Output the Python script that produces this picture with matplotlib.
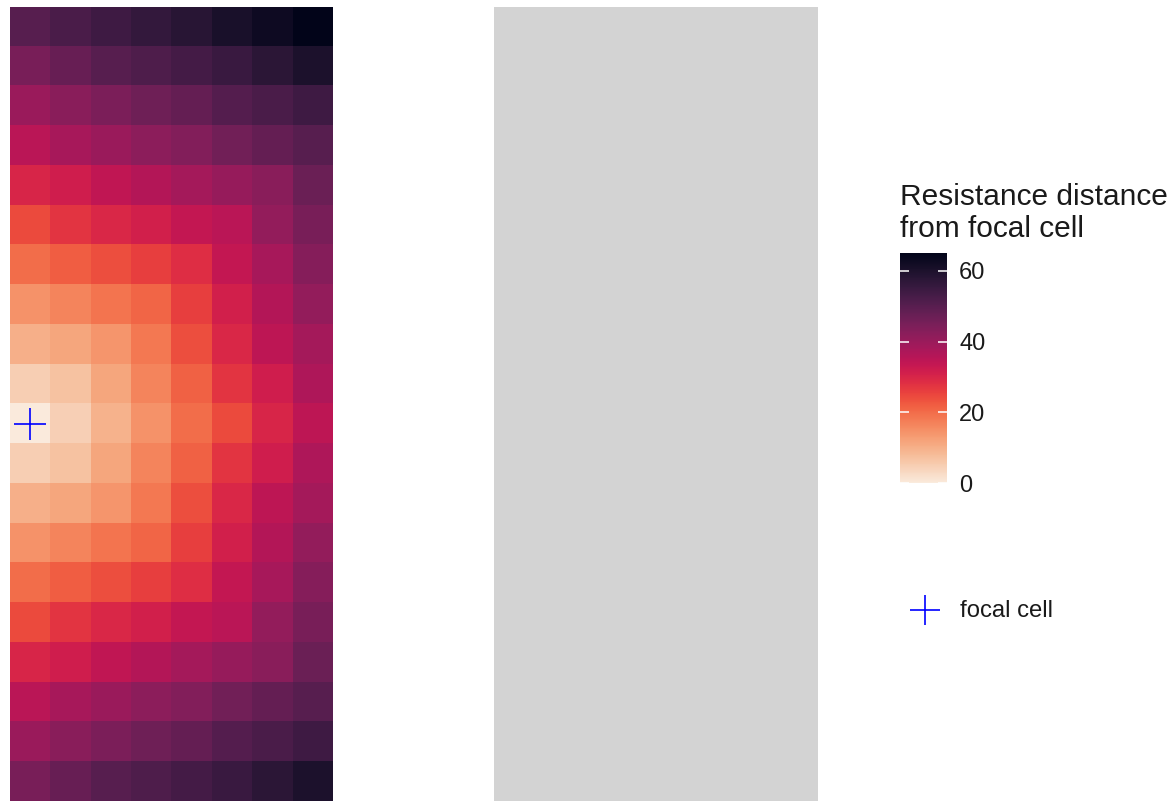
import numpy as np
import matplotlib.pyplot as plt
import seaborn as sns
from matplotlib.lines import Line2D

plt.rcParams['font.family'] = ['Liberation Sans', 'DejaVu Sans']

# resistance distance per cell, rows from top to bottom, 8 columns
dist = np.array([
    [50.0, 52.0, 54.0, 56.0, 58.0, 60.5, 62.5, 64.9],
    [45.0, 47.5, 50.0, 51.5, 53.0, 55.0, 57.5, 60.0],
    [40.0, 42.5, 44.5, 46.5, 48.0, 50.5, 52.0, 54.0],
    [35.0, 38.0, 40.0, 42.0, 43.5, 46.0, 48.0, 50.0],
    [30.0, 31.5, 34.0, 36.0, 38.5, 40.5, 42.5, 47.0],
    [24.5, 27.5, 29.5, 31.0, 33.5, 35.0, 41.0, 45.0],
    [20.0, 22.0, 24.0, 26.0, 28.5, 33.5, 38.0, 43.0],
    [14.5, 16.5, 19.0, 21.0, 26.0, 31.0, 36.0, 41.0],
    [10.0, 11.5, 14.0, 18.5, 24.0, 29.5, 34.5, 38.5],
    [5.0, 7.0, 11.5, 16.5, 21.5, 27.5, 31.5, 37.0],
    [0.0, 4.6, 9.5, 14.5, 20.0, 24.5, 30.0, 34.5],
    [5.0, 7.0, 11.5, 16.5, 21.5, 27.5, 31.5, 37.0],
    [10.0, 11.5, 14.0, 18.5, 24.0, 29.5, 34.5, 38.5],
    [14.5, 16.5, 19.0, 21.0, 26.0, 31.0, 36.0, 41.0],
    [20.0, 22.0, 24.0, 26.0, 28.5, 33.5, 38.0, 43.0],
    [24.5, 27.5, 29.5, 31.0, 33.5, 35.0, 41.0, 45.0],
    [30.0, 31.5, 34.0, 36.0, 38.5, 40.5, 42.5, 47.0],
    [35.0, 38.0, 40.0, 42.0, 43.5, 46.0, 48.0, 50.0],
    [40.0, 42.5, 44.5, 46.5, 48.0, 50.5, 52.0, 54.0],
    [45.0, 47.5, 50.0, 51.5, 53.0, 55.0, 57.5, 60.0],
])
focal_row = 10
focal_col = 0
cbar_ticks = [0, 20, 40, 60]
legend_title = ['Resistance distance', 'from focal cell']
focal_label = 'focal cell'

n_rows, n_cols = dist.shape
W, H = 1175, 802


def box(x0, y0, x1, y1):
    # pixel box (top-left origin) -> figure fraction rect
    return [x0 / W, 1 - y1 / H, (x1 - x0) / W, (y1 - y0) / H]


cmap = sns.color_palette('rocket_r', as_cmap=True)
cmap_na = cmap.copy()
cmap_na.set_bad('#D3D3D3')

fig = plt.figure(figsize=(W / 100, H / 100), dpi=100)

# left panel: distance raster
ax1 = fig.add_axes(box(10, 6.7, 332.3, 801))
im = ax1.imshow(dist, cmap=cmap, vmin=0, vmax=dist.max(),
                extent=(0, n_cols, n_rows, 0), aspect='auto',
                interpolation='nearest')
ax1.plot(focal_col + 0.5, focal_row + 0.5, ls='none', marker='+',
         ms=23.5, mew=1.2, color='blue')
ax1.set_xlim(0, n_cols)
ax1.set_ylim(n_rows, 0)
ax1.set_axis_off()

# right panel: all cells NA
ax2 = fig.add_axes(box(494.3, 6.7, 818.3, 801))
ax2.imshow(np.full_like(dist, np.nan), cmap=cmap_na, vmin=0, vmax=dist.max(),
           extent=(0, n_cols, n_rows, 0), aspect='auto')
ax2.set_axis_off()

# colour bar legend
cax = fig.add_axes(box(900, 253.3, 946.7, 483.3))
cb = fig.colorbar(im, cax=cax)
cb.outline.set_visible(False)
cb.set_ticks(cbar_ticks)
cax.tick_params(direction='in', length=6.2, width=1.1, color='white',
                left=True, right=True, labelleft=False, labelright=True,
                labelsize=17, labelcolor='#1A1A1A', pad=9)

fig.text(900 / W, 1 - 205 / H, legend_title[0], fontsize=21.5,
         va='baseline', ha='left', color='#1A1A1A')
fig.text(900 / W, 1 - 237 / H, legend_title[1], fontsize=21.5,
         va='baseline', ha='left', color='#1A1A1A')

# focal cell legend key
fig.add_artist(Line2D([925 / W], [1 - 610 / H], transform=fig.transFigure,
                      ls='none', marker='+', ms=22, mew=1.2, color='blue'))
fig.text(960 / W, 1 - 611 / H, focal_label, fontsize=17.2, va='center',
         ha='left', color='#1A1A1A')

fig.savefig('out.png', dpi=100)
